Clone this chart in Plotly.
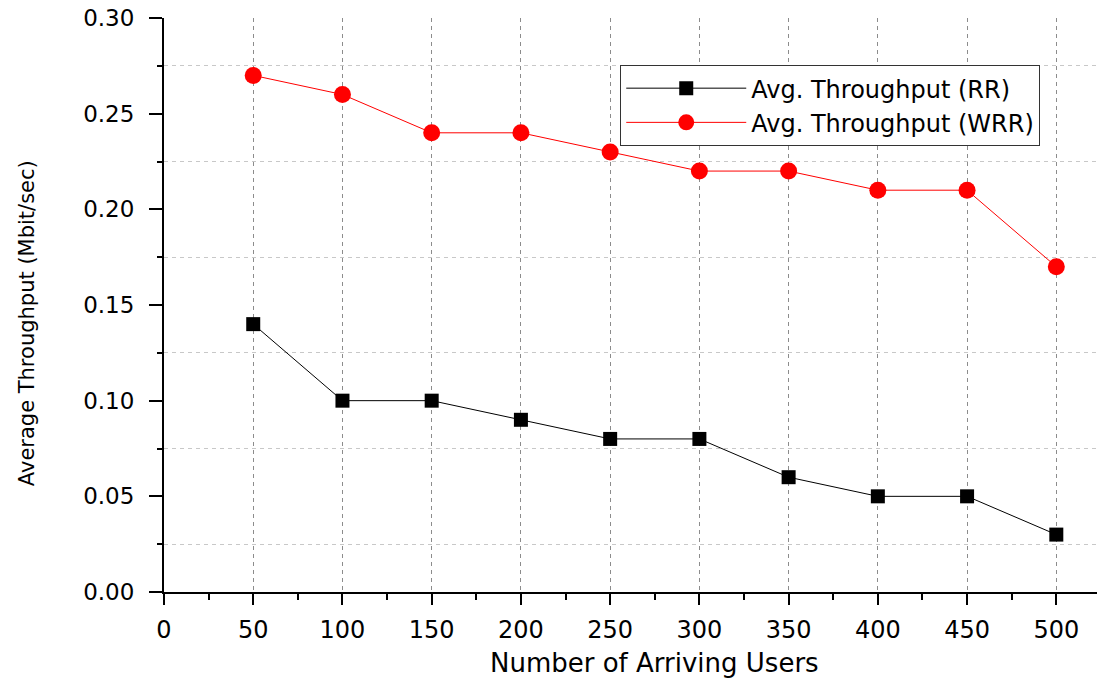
import plotly.graph_objects as go

users = [50, 100, 150, 200, 250, 300, 350, 400, 450, 500]
rr = [0.14, 0.10, 0.10, 0.09, 0.08, 0.08, 0.06, 0.05, 0.05, 0.03]
wrr = [0.27, 0.26, 0.24, 0.24, 0.23, 0.22, 0.22, 0.21, 0.21, 0.17]
x_ticks = [0, 50, 100, 150, 200, 250, 300, 350, 400, 450, 500]
y_ticks = [0.00, 0.05, 0.10, 0.15, 0.20, 0.25, 0.30]
y_minor_grid = [0.025, 0.075, 0.125, 0.175, 0.225, 0.275]

FONT = "DejaVu Sans"

fig = go.Figure()
fig.add_trace(go.Scatter(
    x=[None], y=[None], yaxis="y2", showlegend=False, hoverinfo="skip",
))
fig.add_trace(go.Scatter(
    x=users, y=rr, mode="lines+markers", name="Avg. Throughput (RR)",
    line=dict(color="black", width=1),
    marker=dict(symbol="square", size=14, color="black"),
))
fig.add_trace(go.Scatter(
    x=users, y=wrr, mode="lines+markers", name="Avg. Throughput (WRR)",
    line=dict(color="red", width=1),
    marker=dict(symbol="circle", size=17, color="red"),
))

fig.update_layout(
    width=1097, height=681,
    margin=dict(l=164, r=0, t=18, b=89, pad=0),
    paper_bgcolor="white", plot_bgcolor="white",
    font=dict(family=FONT, color="black"),
    showlegend=True,
    legend=dict(
        x=0.489, y=0.918, xanchor="left", yanchor="top",
        bordercolor="#333333", borderwidth=1, bgcolor="white",
        font=dict(family=FONT, size=24, color="black"),
        itemwidth=120, tracegroupgap=0,
    ),
    xaxis=dict(
        range=[0, 522.8], tickvals=x_ticks, ticktext=[str(v) for v in x_ticks],
        showline=True, linecolor="black", linewidth=2,
        ticks="outside", ticklen=11, tickwidth=2, tickcolor="black",
        tickfont=dict(family=FONT, size=24), ticklabelstandoff=4,
        showgrid=True, gridcolor="#8c8c8c", gridwidth=1, griddash="4px,4px",
        zeroline=False,
        minor=dict(dtick=25, tick0=0, ticks="outside", ticklen=6, tickwidth=2,
                   tickcolor="black", showgrid=False),
    ),
    yaxis=dict(
        range=[0, 0.30], tickvals=y_ticks, ticktext=["%.2f" % v for v in y_ticks],
        showline=True, linecolor="black", linewidth=2,
        ticks="outside", ticklen=13, tickwidth=2, tickcolor="black",
        tickfont=dict(family=FONT, size=23), ticklabelstandoff=10,
        showgrid=False, zeroline=False,
        minor=dict(dtick=0.025, tick0=0, ticks="outside", ticklen=5, tickwidth=2,
                   tickcolor="black", showgrid=False),
    ),
    yaxis2=dict(
        overlaying="y", side="left", range=[0, 0.30], tickvals=y_minor_grid,
        showticklabels=False, ticks="", showline=False, zeroline=False,
        showgrid=True, gridcolor="#c8c8c8", gridwidth=1, griddash="4px,4px",
    ),
    annotations=[
        dict(text="Number of Arriving Users", xref="paper", yref="paper",
             x=0.526, y=-0.124, xanchor="center", yanchor="middle",
             showarrow=False, font=dict(family=FONT, size=26, color="black")),
        dict(text="Average Throughput (Mbit/sec)", xref="paper", yref="paper",
             x=-0.1475, y=0.469, xanchor="center", yanchor="middle", textangle=-90,
             showarrow=False, font=dict(family=FONT, size=21, color="black")),
    ],
)

fig.write_html("out.html")
